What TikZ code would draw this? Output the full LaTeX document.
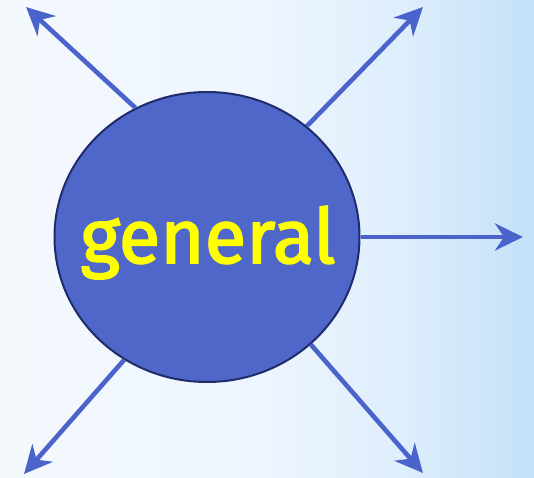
\documentclass[tikz,border=0pt]{standalone}
\usepackage{fontspec}
\setmainfont{Fira Sans}
\newfontfamily\labelfont[FakeBold=2.2]{Fira Sans}
\usetikzlibrary{shapes.geometric,arrows.meta}
\definecolor{arrowblue}{HTML}{4A64CB}
\definecolor{ballfill}{HTML}{4F67C9}
\definecolor{ballline}{HTML}{1F2B6B}
\definecolor{txtyellow}{HTML}{FFFF00}
\definecolor{bgleft}{HTML}{F5F9FE}
\definecolor{bgmid}{HTML}{EDF5FE}
\definecolor{bgmid2}{HTML}{DEEEFC}
\definecolor{bgright}{HTML}{C4E1F8}
\pgfdeclarehorizontalshading{bgshade}{100bp}{
  color(0bp)=(bgleft);
  color(25bp)=(bgleft);
  color(50bp)=(bgmid);
  color(62.5bp)=(bgmid2);
  color(75bp)=(bgright);
  color(100bp)=(bgright)}
\tikzset{
  ray/.style={draw=arrowblue, line width=4.6pt, -{Stealth[length=28pt, width=27pt, inset=9pt]}},
  ball/.style={ellipse, draw=ballline, line width=2pt, fill=ballfill, minimum width=305pt, minimum height=290pt, inner sep=0pt},
  lbl/.style={font=\labelfont\fontsize{76}{76}\selectfont, text=txtyellow, inner sep=0pt, anchor=base},
}
\begin{document}
\begin{tikzpicture}[x=1pt,y=1pt]
\shade[shading=bgshade] (0,0) rectangle (534,477);
\useasboundingbox (0,0) rectangle (534,477);
\node[ball] (g) at (207,240) {};
\node[lbl] (word) at (208,214) {general};
\coordinate (t1) at (26,470);
\coordinate (t2) at (423,470);
\coordinate (t3) at (523,240);
\coordinate (t4) at (24,3);
\coordinate (t5) at (423,4);
\draw[ray] (g.119.8) -- (t1);
\draw[ray] (g.48.8) -- (t2);
\draw[ray] (g.east) -- (t3);
\draw[ray] (g.236.6) -- (t4);
\draw[ray] (g.314.2) -- (t5);
\end{tikzpicture}
\end{document}
